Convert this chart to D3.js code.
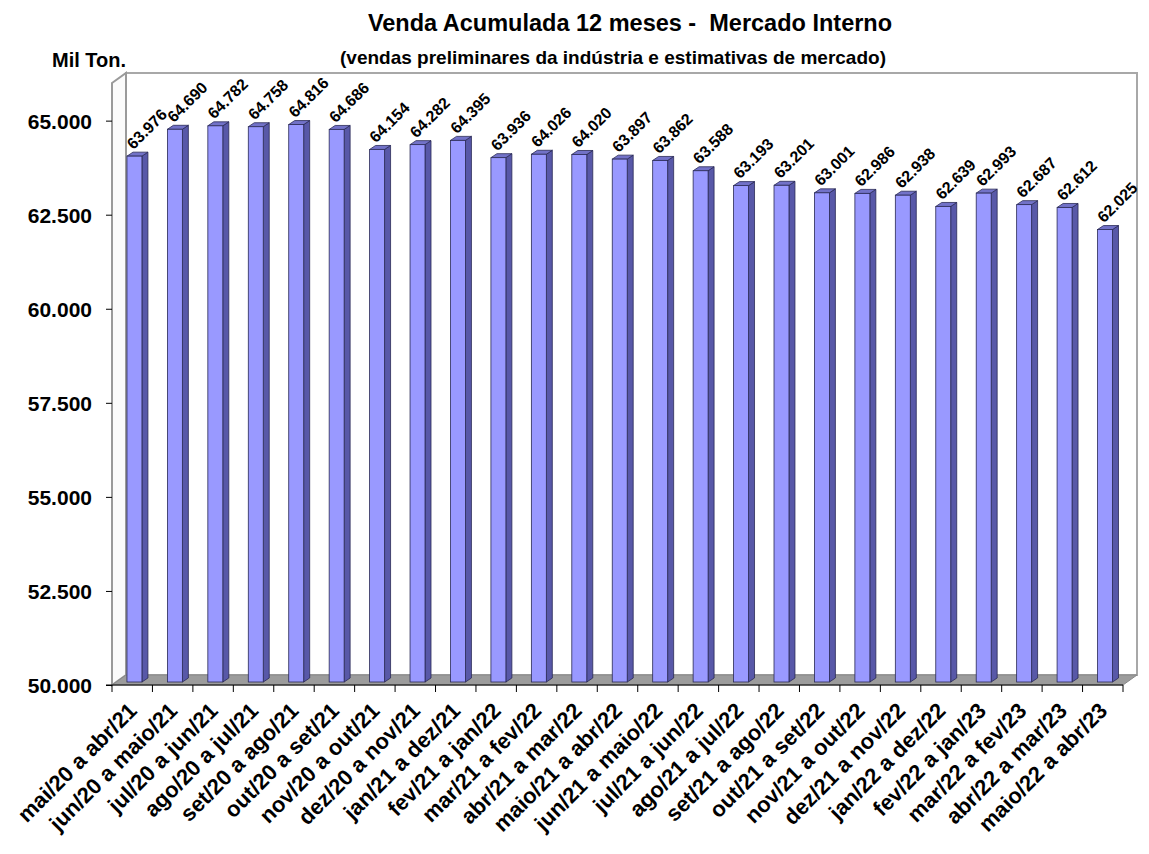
<!DOCTYPE html>
<html>
<head>
<meta charset="utf-8">
<script src="https://cdn.jsdelivr.net/npm/d3@7"></script>
<style>
body { margin: 0; background: #fff; }
text { font-family: "Liberation Sans", Arial, sans-serif; font-weight: bold; fill: #000; }
</style>
</head>
<body>
<svg id="grafico" width="1149" height="854"></svg>
<script>
// dados (mil ton.)
var categorias = ["mai/20 a abr/21", "jun/20 a maio/21", "jul/20 a jun/21", "ago/20 a jul/21",
  "set/20 a ago/21", "out/20 a set/21", "nov/20 a out/21", "dez/20 a nov/21", "jan/21 a dez/21",
  "fev/21 a jan/22", "mar/21 a fev/22", "abr/21 a mar/22", "maio/21 a abr/22", "jun/21 a maio/22",
  "jul/21 a jun/22", "ago/21 a jul/22", "set/21 a ago/22", "out/21 a set/22", "nov/21 a out/22",
  "dez/21 a nov/22", "jan/22 a dez/22", "fev/22 a jan/23", "mar/22 a fev/23", "abr/22 a mar/23",
  "maio/22 a abr/23"];
var vendas = [63976, 64690, 64782, 64758, 64816, 64686, 64154, 64282, 64395, 63936, 64026, 64020,
  63897, 63862, 63588, 63193, 63201, 63001, 62986, 62938, 62639, 62993, 62687, 62612, 62025];
var yTicks = [50000, 52500, 55000, 57500, 60000, 62500, 65000];
var yDominio = [50000, 66000];

var titulo = "Venda Acumulada 12 meses -  Mercado Interno";
var subtitulo = "(vendas preliminares da indústria e estimativas de mercado)";
var unidade = "Mil Ton.";

// area do grafico (plano frontal) e profundidade 3D
var area = {left: 112, right: 1123, top: 83, bottom: 685};
var prof = {x: 14, y: -10};
var barProf = {x: 6, y: -4}, barDesl = {x: 0, y: -3};

var fmt = d3.formatLocale({decimal: ',', thousands: '.', grouping: [3], currency: ['', '']}).format(',d');

var svg = d3.select('#grafico');

var x = d3.scaleBand()
  .domain(categorias)
  .range([area.left, area.right]);
var y = d3.scaleLinear()
  .domain(yDominio)
  .range([area.bottom, area.top]);

// paredes e chao
var paredes = svg.append('g');
paredes.append('rect')
  .attr('x', area.left + prof.x)
  .attr('y', area.top + prof.y)
  .attr('width', area.right - area.left)
  .attr('height', area.bottom - area.top)
  .attr('fill', '#fff')
  .attr('stroke', '#a8a8a8')
  .attr('stroke-width', 2);
paredes.append('polygon')
  .attr('points', [[area.left, area.top], [area.left + prof.x, area.top + prof.y],
    [area.left + prof.x, area.bottom + prof.y], [area.left, area.bottom]].join(' '))
  .attr('fill', '#fbfbfb')
  .attr('stroke', '#9a9a9a')
  .attr('stroke-width', 2);
paredes.append('polygon')
  .attr('points', [[area.left, area.bottom], [area.right, area.bottom],
    [area.right + prof.x, area.bottom + prof.y], [area.left + prof.x, area.bottom + prof.y]].join(' '))
  .attr('fill', '#9c9c9c')
  .attr('stroke', '#888')
  .attr('stroke-width', 1);

// eixo y
var yAxis = d3.axisLeft(y)
  .tickValues(yTicks)
  .tickSize(6)
  .tickPadding(14)
  .tickFormat(fmt);
var gy = svg.append('g')
  .attr('class', 'y axis')
  .attr('transform', 'translate(' + area.left + ',0)')
  .call(yAxis);
gy.select('.domain').remove();
gy.selectAll('.tick text')
  .attr('font-size', 21)
  .attr('font-family', null)
  .attr('dy', '0.36em');

// eixo x
var xAxis = d3.axisBottom(x).tickSize(0);
var gx = svg.append('g')
  .attr('class', 'x axis')
  .attr('transform', 'translate(0,' + area.bottom + ')')
  .call(xAxis);
gx.select('.domain').remove();
gx.append('line')
  .attr('x1', area.left - 6)
  .attr('x2', area.right)
  .attr('stroke', '#000');
gx.selectAll('.marca')
  .data(categorias.concat(['fim']))
  .enter().append('line')
  .attr('class', 'marca')
  .attr('x1', function(d) { return d === 'fim' ? area.right : x(d); })
  .attr('x2', function(d) { return d === 'fim' ? area.right : x(d); })
  .attr('y2', 7)
  .attr('stroke', '#000');
gx.selectAll('.tick text')
  .attr('font-size', 22)
  .attr('font-family', null)
  .attr('text-anchor', 'end')
  .attr('x', 0)
  .attr('y', 0)
  .attr('dy', 0)
  .attr('transform', 'translate(6,27) rotate(-45)');

// barras 3D
var bw = x.bandwidth() * 0.37;
var barras = svg.append('g').selectAll('.barra')
  .data(vendas)
  .enter().append('g')
  .attr('class', 'barra');

function x0(d, i) { return x(categorias[i]) + x.bandwidth() * 0.37 + barDesl.x; }
function topo(d) { return y(d) + barDesl.y; }
var base = y(yDominio[0]) + barDesl.y;

barras.append('polygon')
  .attr('points', function(d, i) {
    var a = x0(d, i) + bw, t = topo(d);
    return [[a, t], [a + barProf.x, t + barProf.y], [a + barProf.x, base + barProf.y], [a, base]].join(' ');
  })
  .attr('fill', '#5858a8')
  .attr('stroke', '#2a2a55')
  .attr('stroke-width', 0.8);
barras.append('polygon')
  .attr('points', function(d, i) {
    var a = x0(d, i), t = topo(d);
    return [[a, t], [a + bw, t], [a + bw + barProf.x, t + barProf.y], [a + barProf.x, t + barProf.y]].join(' ');
  })
  .attr('fill', '#7272c8')
  .attr('stroke', '#2a2a55')
  .attr('stroke-width', 0.8);
barras.append('rect')
  .attr('x', x0)
  .attr('y', topo)
  .attr('width', bw)
  .attr('height', function(d) { return base - topo(d); })
  .attr('fill', '#9999ff')
  .attr('stroke', '#2a2a55')
  .attr('stroke-width', 0.8);

// rotulos de valor (girados 45 graus)
barras.append('text')
  .attr('font-size', 16)
  .attr('transform', function(d, i) {
    return 'translate(' + (x0(d, i) + bw / 2 - 1).toFixed(2) + ',' + (topo(d) - 6).toFixed(2) + ') rotate(-45)';
  })
  .text(function(d) { return fmt(d); });

// titulos
svg.append('text')
  .attr('x', 630)
  .attr('y', 31)
  .attr('text-anchor', 'middle')
  .attr('font-size', 23.5)
  .style('white-space', 'pre')
  .text(titulo);
svg.append('text')
  .attr('x', 613)
  .attr('y', 64)
  .attr('text-anchor', 'middle')
  .attr('font-size', 19)
  .text(subtitulo);
svg.append('text')
  .attr('x', 52)
  .attr('y', 67)
  .attr('font-size', 20)
  .text(unidade);
</script>
</body>
</html>
